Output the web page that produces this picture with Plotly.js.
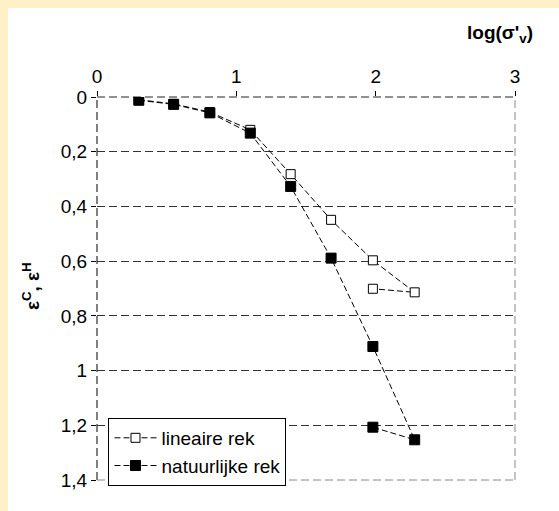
<!DOCTYPE html>
<html>
<head>
<meta charset="utf-8">
<script src="https://cdn.plot.ly/plotly-3.0.1.min.js"></script>
<style>
  html, body { margin: 0; padding: 0; background: #FFF0C8; width: 559px; height: 511px; overflow: hidden; }
  #chart { position: absolute; left: 8px; top: 8px; width: 551px; height: 503px; }
</style>
</head>
<body>
<div id="chart"></div>
<script>
// log(sigma'_v) values and strains
const seriesNames = ["lineaire rek", "natuurlijke rek"];
const xLineair = [0.30, 0.55, 0.81, 1.10, 1.39, 1.68, 1.98, 2.28, 1.98];
const yLineair = [0.010, 0.025, 0.055, 0.120, 0.282, 0.449, 0.597, 0.714, 0.701];
const xNatuurlijk = [0.30, 0.55, 0.81, 1.10, 1.39, 1.68, 1.98, 2.28, 1.98];
const yNatuurlijk = [0.012, 0.027, 0.058, 0.132, 0.327, 0.589, 0.912, 1.253, 1.207];
const xTickVals = [0, 1, 2, 3];
const xTickText = ["0", "1", "2", "3"];
const yTickVals = [0, 0.2, 0.4, 0.6, 0.8, 1.0, 1.2, 1.4];
const yTickText = ["0", "0,2", "0,4", "0,6", "0,8", "1", "1,2", "1,4"];

const font = "Liberation Sans, Arial, sans-serif";

const traces = [
  {
    x: xLineair, y: yLineair, name: seriesNames[0], type: "scatter", mode: "lines+markers",
    line: { color: "#000", width: 1, dash: "6px,3px" },
    marker: { symbol: "square", size: 9, color: "#fff", line: { color: "#000", width: 1 } }
  },
  {
    x: xNatuurlijk, y: yNatuurlijk, name: seriesNames[1], type: "scatter", mode: "lines+markers",
    line: { color: "#000", width: 1, dash: "6px,3px" },
    marker: { symbol: "square", size: 10, color: "#000", line: { color: "#000", width: 1 } }
  }
];

const layout = {
  width: 551, height: 503,
  paper_bgcolor: "#fff", plot_bgcolor: "#fff",
  margin: { l: 88.5, r: 44, t: 89, b: 31 },
  font: { family: font, size: 19, color: "#000" },
  showlegend: true,
  legend: {
    x: 0.0275, y: 0.162, xanchor: "left", yanchor: "top",
    bgcolor: "#fff", bordercolor: "#000", borderwidth: 1,
    font: { family: font, size: 19, color: "#000" },
    tracegroupgap: 0, itemwidth: 42
  },
  xaxis: {
    side: "top", range: [0, 3], tickvals: xTickVals, ticktext: xTickText,
    ticks: "outside", ticklen: 5, tickcolor: "#000", tickwidth: 1,
    showgrid: false, zeroline: false, showline: false,
    tickfont: { family: font, size: 19, color: "#000" }
  },
  yaxis: {
    range: [1.4, 0], tickvals: yTickVals, ticktext: yTickText,
    ticks: "outside", ticklen: 5, tickcolor: "#000", tickwidth: 1,
    showgrid: true, gridcolor: "#333", gridwidth: 1, griddash: "8px,4px",
    zeroline: false, showline: false,
    tickfont: { family: font, size: 19, color: "#000" }
  },
  shapes: [
    { type: "line", xref: "paper", yref: "paper", x0: 0, x1: 1, y0: 1, y1: 1,
      line: { color: "#222", width: 1, dash: "8px,4px" }, layer: "below" },
    { type: "line", xref: "paper", yref: "paper", x0: 0, x1: 0, y0: 0, y1: 1,
      line: { color: "#000", width: 1, dash: "8px,4px" }, layer: "below" },
    { type: "line", xref: "paper", yref: "paper", x0: 1, x1: 1, y0: 0, y1: 1,
      line: { color: "#888", width: 1, dash: "8px,4px" }, layer: "below" },
    { type: "line", xref: "paper", yref: "paper", x0: 0, x1: 1, y0: 0, y1: 0,
      line: { color: "#888", width: 1, dash: "8px,4px" }, layer: "below" }
  ],
  annotations: [
    { text: "<b>log(σ'<sub>v</sub>)</b>", xref: "paper", yref: "paper",
      x: 0.964, y: 1.164, xanchor: "center", yanchor: "middle", showarrow: false,
      font: { family: font, size: 19, color: "#000" } },
    { text: "<b>ε<sup>C</sup>, ε<sup>H</sup></b>", xref: "paper", yref: "paper",
      x: -0.159, y: 0.505, xanchor: "center", yanchor: "middle", textangle: -90, showarrow: false,
      font: { family: font, size: 19, color: "#000" } }
  ]
};

Plotly.newPlot("chart", traces, layout, { displayModeBar: false, staticPlot: true });
</script>
</body>
</html>
